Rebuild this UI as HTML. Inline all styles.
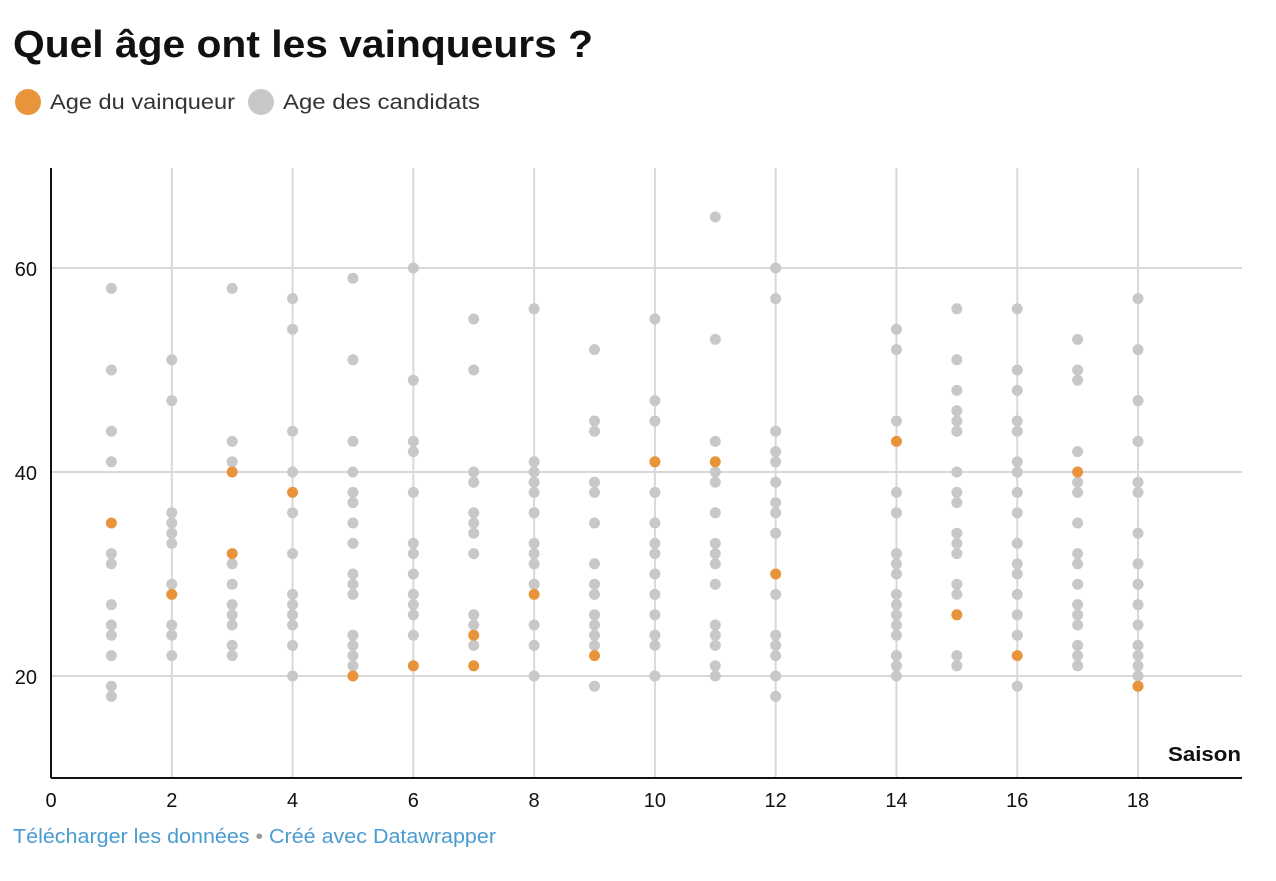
<!DOCTYPE html>
<html><head><meta charset="utf-8"><style>
body{margin:0;background:#fff;width:1276px;height:876px;overflow:hidden;font-family:"Liberation Sans",sans-serif}
</style></head><body>
<svg id="s" width="1276" height="876" xmlns="http://www.w3.org/2000/svg" font-family="Liberation Sans, sans-serif">
<text x="13" y="57" font-size="38" font-weight="bold" fill="#111" textLength="580" lengthAdjust="spacingAndGlyphs">Quel âge ont les vainqueurs ?</text>
<circle cx="28" cy="102" r="13" fill="#e8943a"/>
<text x="50" y="109" font-size="21" fill="#333" textLength="185" lengthAdjust="spacingAndGlyphs">Age du vainqueur</text>
<circle cx="261" cy="102" r="13" fill="#c8c8c8"/>
<text x="283" y="109" font-size="21" fill="#333" textLength="197" lengthAdjust="spacingAndGlyphs">Age des candidats</text>
<g id="grid" stroke="#d8d8d8" stroke-width="2"></g>
<g id="dots"></g>
<line x1="51" y1="168" x2="51" y2="778" stroke="#111" stroke-width="2"/>
<line x1="51" y1="778" x2="1242" y2="778" stroke="#111" stroke-width="2"/>
<g font-size="20" fill="#111" text-anchor="end">
<text x="37" y="276">60</text><text x="37" y="480">40</text><text x="37" y="684">20</text>
</g>
<g id="xl" font-size="20" fill="#111" text-anchor="middle"></g>
<text x="1168" y="761" font-size="20" font-weight="bold" fill="#111" textLength="73" lengthAdjust="spacingAndGlyphs">Saison</text>
<text x="13" y="843" font-size="20" fill="#4a9bd1" textLength="483" lengthAdjust="spacingAndGlyphs">Télécharger les données <tspan fill="#999">•</tspan> Créé avec Datawrapper</text>
</svg>
<script>
var NS="http://www.w3.org/2000/svg";
function X(v){return 51+v*60.39}
function Y(a){return 778-(a-10)*10.2}
function el(t,a,p){var e=document.createElementNS(NS,t);for(var k in a)e.setAttribute(k,a[k]);p.appendChild(e);return e}
var g=document.getElementById('grid'),d=document.getElementById('dots'),xl=document.getElementById('xl');
[20,40,60].forEach(function(a){el('line',{x1:51,x2:1242,y1:Y(a),y2:Y(a)},g)});
for(var i=2;i<=18;i+=2){el('line',{x1:X(i),x2:X(i),y1:168,y2:778},g)}
for(var i=0;i<=18;i+=2){var t=el('text',{x:X(i),y:807},xl);t.textContent=i}
var D={1:[[58,50,44,41,32,31,27,25,24,22,19,18],[35]],
2:[[51,47,36,35,34,33,29,25,24,22],[28]],
3:[[58,43,41,31,29,27,26,25,23,22],[40,32]],
4:[[57,54,44,40,36,32,28,27,26,25,23,20],[38]],
5:[[59,51,43,40,38,37,35,33,30,29,28,24,23,22,21],[20]],
6:[[60,49,43,42,38,33,32,30,28,27,26,24],[21]],
7:[[55,50,40,39,36,35,34,32,26,25,23],[24,21]],
8:[[56,41,40,39,38,36,33,32,31,29,25,23,20],[28]],
9:[[52,45,44,39,38,35,31,29,28,26,25,24,23,19],[22]],
10:[[55,47,45,38,35,33,32,30,28,26,24,23,20],[41]],
11:[[65,53,43,40,39,36,33,32,31,29,25,24,23,21,20],[41]],
12:[[60,57,44,42,41,39,37,36,34,28,24,23,22,20,18],[30]],
14:[[54,52,45,38,36,32,31,30,28,27,26,25,24,22,21,20],[43]],
15:[[56,51,48,46,45,44,40,38,37,34,33,32,29,28,22,21],[26]],
16:[[56,50,48,45,44,41,40,38,36,33,31,30,28,26,24,19],[22]],
17:[[53,50,49,42,39,38,35,32,31,29,27,26,25,23,22,21],[40]],
18:[[57,52,47,43,39,38,34,31,29,27,25,23,22,21,20],[19]]};
for(var s in D){D[s][0].forEach(function(a){el('circle',{cx:X(+s),cy:Y(a),r:5.5,fill:'#c8c8c8'},d)});}
for(var s in D){D[s][1].forEach(function(a){el('circle',{cx:X(+s),cy:Y(a),r:5.5,fill:'#e8943a'},d)});}
</script>
</body></html>
